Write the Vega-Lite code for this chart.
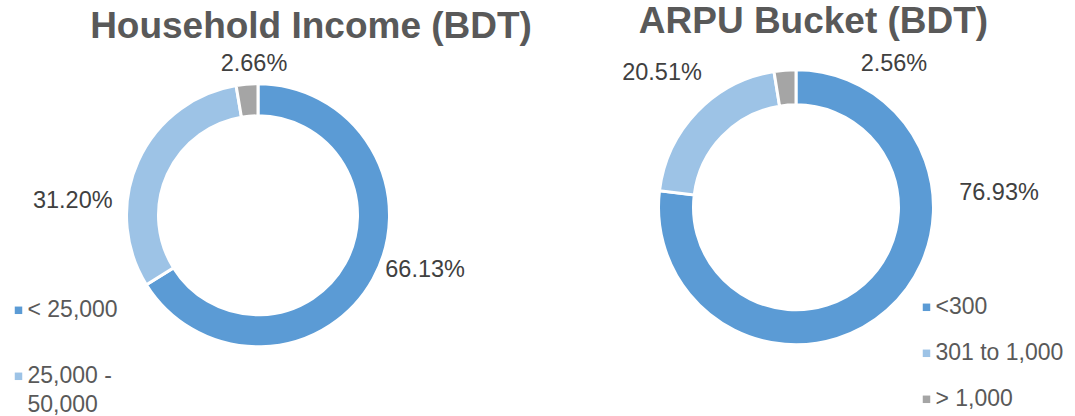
{
  "$schema": "https://vega.github.io/schema/vega-lite/v6.json",
  "background": "white",
  "padding": {"left": 0, "top": 2.3, "right": 0, "bottom": 0},
  "spacing": 10,
  "bounds": "flush",
  "datasets": {
    "income": [
      {"category": "< 25,000", "share": 0.6613},
      {"category": "25,000 - 50,000", "share": 0.3120},
      {"category": "> 50,000", "share": 0.0266}
    ],
    "arpu": [
      {"category": "<300", "share": 0.7693},
      {"category": "301 to 1,000", "share": 0.2051},
      {"category": "> 1,000", "share": 0.0256}
    ]
  },
  "hconcat": [
    {
      "width": 516,
      "height": 340,
      "data": {"name": "income"},
      "title": {"text": "Household Income (BDT)", "dx": 53, "dy": 5.2},
      "encoding": {
        "theta": {"field": "share", "type": "quantitative", "stack": true},
        "order": {"field": "share", "type": "quantitative", "sort": "descending"}
      },
      "layer": [
        {
          "mark": {"type": "arc", "innerRadius": 99.5, "outerRadius": 131.5, "stroke": "white", "strokeWidth": 3},
          "encoding": {
            "color": {
              "field": "category", "type": "nominal",
              "sort": ["< 25,000", "25,000 - 50,000", "> 50,000"],
              "scale": {"domain": ["< 25,000", "25,000 - 50,000", "> 50,000"], "range": ["#5B9BD5", "#9DC3E6", "#A5A5A5"]},
              "legend": {
                "title": null, "orient": "none", "legendX": 7, "legendY": 253.5,
                "rowPadding": 42,
                "labelExpr": "datum.label == '25,000 - 50,000' ? ['25,000 -', '50,000'] : datum.label"
              }
            }
          }
        },
        {
          "mark": {"type": "text", "radius": 150, "dx": 36, "dy": -18, "clip": true},
          "encoding": {
            "text": {"field": "share", "type": "quantitative", "format": ".2%"},
            "detail": {"field": "category", "type": "nominal"},
            "opacity": {"condition": {"test": "datum.category === '< 25,000'", "value": 1}, "value": 0}
          }
        },
        {
          "mark": {"type": "text", "radius": 150, "dx": -48.5, "dy": 47, "clip": true},
          "encoding": {
            "text": {"field": "share", "type": "quantitative", "format": ".2%"},
            "detail": {"field": "category", "type": "nominal"},
            "opacity": {"condition": {"test": "datum.category === '25,000 - 50,000'", "value": 1}, "value": 0}
          }
        },
        {
          "mark": {"type": "text", "radius": 150, "dx": 8.5, "dy": -2, "clip": true},
          "encoding": {
            "text": {"field": "share", "type": "quantitative", "format": ".2%"},
            "detail": {"field": "category", "type": "nominal"},
            "opacity": {"condition": {"test": "datum.category === '> 50,000'", "value": 1}, "value": 0}
          }
        }
      ]
    },
    {
      "width": 540,
      "height": 324,
      "data": {"name": "arpu"},
      "title": {"text": "ARPU Bucket (BDT)", "dx": 17.5},
      "encoding": {
        "theta": {"field": "share", "type": "quantitative", "stack": true},
        "order": {"field": "share", "type": "quantitative", "sort": "descending"}
      },
      "layer": [
        {
          "mark": {"type": "arc", "innerRadius": 102.5, "outerRadius": 137.5, "stroke": "white", "strokeWidth": 3},
          "encoding": {
            "color": {
              "field": "category", "type": "nominal",
              "sort": ["<300", "301 to 1,000", "> 1,000"],
              "scale": {"domain": ["<300", "301 to 1,000", "> 1,000"], "range": ["#5B9BD5", "#9DC3E6", "#A5A5A5"]},
              "legend": {
                "title": null, "orient": "none", "legendX": 389, "legendY": 250.5,
                "rowPadding": 22
              }
            }
          }
        },
        {
          "mark": {"type": "text", "radius": 150, "dx": 103.6, "dy": -126.3, "clip": true},
          "encoding": {
            "text": {"field": "share", "type": "quantitative", "format": ".2%"},
            "detail": {"field": "category", "type": "nominal"},
            "opacity": {"condition": {"test": "datum.category === '<300'", "value": 1}, "value": 0}
          }
        },
        {
          "mark": {"type": "text", "radius": 150, "dx": -25.8, "dy": -30.6, "clip": true},
          "encoding": {
            "text": {"field": "share", "type": "quantitative", "format": ".2%"},
            "detail": {"field": "category", "type": "nominal"},
            "opacity": {"condition": {"test": "datum.category === '301 to 1,000'", "value": 1}, "value": 0}
          }
        },
        {
          "mark": {"type": "text", "radius": 150, "dx": 110, "dy": 6.5, "clip": true},
          "encoding": {
            "text": {"field": "share", "type": "quantitative", "format": ".2%"},
            "detail": {"field": "category", "type": "nominal"},
            "opacity": {"condition": {"test": "datum.category === '> 1,000'", "value": 1}, "value": 0}
          }
        }
      ]
    }
  ],
  "resolve": {"scale": {"color": "independent", "theta": "independent"}, "legend": {"color": "independent"}},
  "config": {
    "font": "Liberation Sans",
    "view": {"stroke": null},
    "title": {"fontSize": 37, "fontWeight": "bold", "color": "#595959", "anchor": "middle", "offset": 4.2, "font": "Liberation Sans"},
    "text": {"fontSize": 23.5, "color": "#404040", "font": "Liberation Sans", "align": "center", "baseline": "middle"},
    "legend": {
      "labelFont": "Liberation Sans", "labelFontSize": 23, "labelColor": "#595959",
      "symbolType": "square", "symbolSize": 56, "symbolStrokeWidth": 0,
      "labelOffset": -2.5, "padding": 0, "labelLimit": 300, "labelBaseline": "middle"
    },
    "style": {"guide-label": {"lineHeight": 28.5}}
  }
}
